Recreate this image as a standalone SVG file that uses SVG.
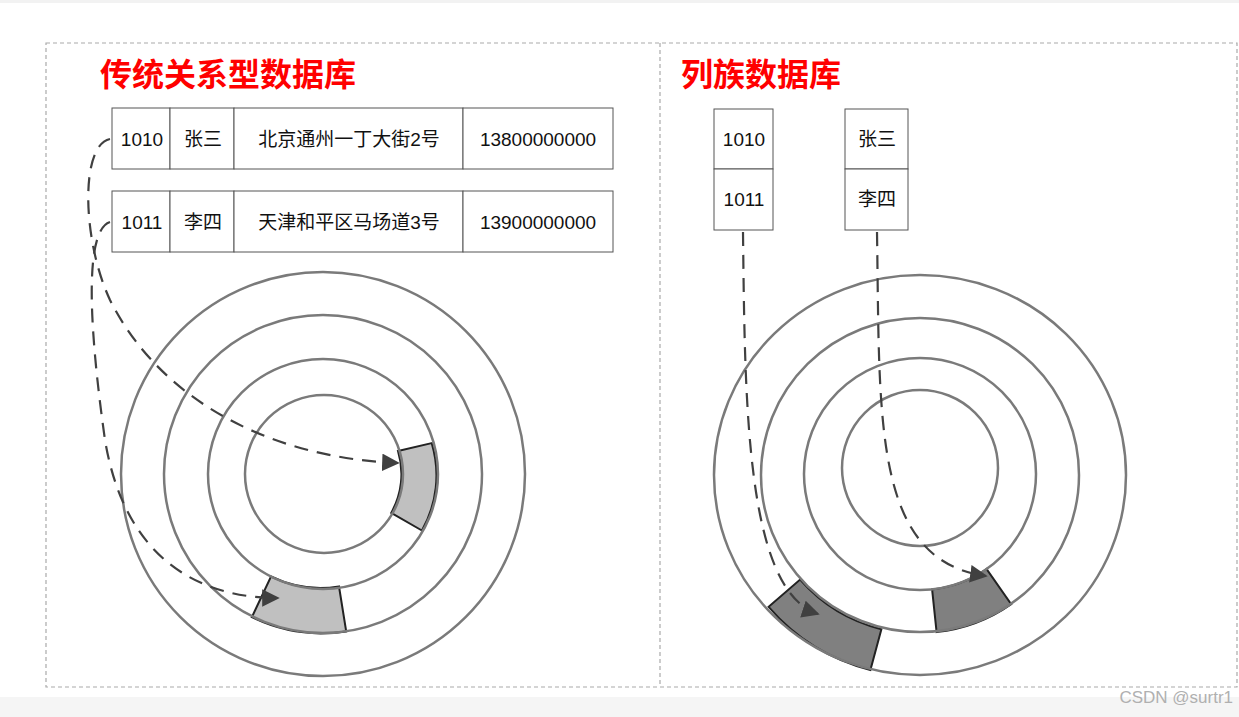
<svg xmlns="http://www.w3.org/2000/svg" width="1239" height="717" viewBox="0 0 1239 717">
<defs>
<style>
.t{font-family:"Liberation Sans","Noto Sans CJK SC",sans-serif;font-size:19px;fill:#111;text-anchor:middle}
.h{font-family:"Noto Sans CJK SC",sans-serif;font-size:32px;font-weight:bold;fill:#f00}
.c{fill:none;stroke:#7a7a7a;stroke-width:2.5}
.cell{fill:#fff;stroke:#555;stroke-width:1}
.con{fill:none;stroke:#404040;stroke-width:2.2;stroke-dasharray:14 9;marker-end:url(#a)}
</style>
<marker id="a" viewBox="0 0 10 10" refX="9" refY="5" markerWidth="8" markerHeight="8" orient="auto" markerUnits="strokeWidth"><path d="M0,0L10,5L0,10z" fill="#404040"/></marker>
</defs>
<rect width="1239" height="717" fill="#fff"/>
<rect x="0" y="0" width="1239" height="3" fill="#f2f2f2"/>
<rect x="0" y="697" width="1239" height="20" fill="#f5f5f5"/>
<rect x="46" y="43" width="1191" height="644" fill="none" stroke="#aaa" stroke-width="1.2" stroke-dasharray="4 3"/>
<line x1="660" y1="43" x2="660" y2="687" stroke="#aaa" stroke-width="1.2" stroke-dasharray="4 3"/>
<text class="h" x="100" y="86">传统关系型数据库</text>
<text class="h" x="681" y="86">列族数据库</text>
<g id="disk-left">
<path d="M431.7,443.1 A112,112 0 0 1 421.9,530.5 L391.2,512.9 A79,79 0 0 0 398.0,451.0 Z" fill="#c0c0c0" stroke="#222" stroke-width="2"/>
<path d="M346.2,631.4 A159,159 0 0 1 251.8,617.2 L271.0,576.5 A114,114 0 0 0 339.0,586.5 Z" fill="#c0c0c0" stroke="#222" stroke-width="2"/>
<circle class="c" cx="323" cy="474" r="202"/>
<circle class="c" cx="323" cy="474" r="159"/>
<circle class="c" cx="323" cy="474" r="115"/>
<circle class="c" cx="324" cy="474" r="79"/>
</g>
<g id="disk-right">
<path d="M870.4,670.0 A201,201 0 0 1 768.6,606.8 L800.1,579.6 A159,159 0 0 0 881.4,629.2 Z" fill="#808080" stroke="#222" stroke-width="2"/>
<path d="M1011.2,604.2 A159,159 0 0 1 936.6,632.1 L932.1,589.4 A116,116 0 0 0 986.5,569.0 Z" fill="#808080" stroke="#222" stroke-width="2"/>
<ellipse class="c" cx="920" cy="475" rx="206" ry="200"/>
<ellipse class="c" cx="920" cy="475" rx="159" ry="157"/>
<circle class="c" cx="920" cy="474" r="116"/>
<circle class="c" cx="920" cy="468" r="78"/>
</g>
<g id="row1010">
<rect class="cell" x="112" y="108" width="58" height="61"/><rect class="cell" x="170" y="108" width="64" height="61"/><rect class="cell" x="234" y="108" width="229" height="61"/><rect class="cell" x="463" y="108" width="150" height="61"/>
<text class="t" x="142" y="146">1010</text><text class="t" x="203" y="146">张三</text><text class="t" x="349" y="146">北京通州一丁大街2号</text><text class="t" x="538" y="146">13800000000</text>
</g>
<g id="row1011">
<rect class="cell" x="112" y="191" width="58" height="61"/><rect class="cell" x="170" y="191" width="64" height="61"/><rect class="cell" x="234" y="191" width="229" height="61"/><rect class="cell" x="463" y="191" width="150" height="61"/>
<text class="t" x="142" y="229">1011</text><text class="t" x="203" y="229">李四</text><text class="t" x="349" y="229">天津和平区马场道3号</text><text class="t" x="538" y="229">13900000000</text>
</g>
<g id="col-key">
<rect class="cell" x="714" y="109" width="59" height="60"/><rect class="cell" x="714" y="169" width="59" height="61"/>
<text class="t" x="744" y="146">1010</text><text class="t" x="744" y="206">1011</text>
</g>
<g id="col-name">
<rect class="cell" x="845" y="109" width="63" height="60"/><rect class="cell" x="845" y="169" width="63" height="61"/>
<text class="t" x="877" y="146">张三</text><text class="t" x="877" y="206">李四</text>
</g>
<g id="connectors">
<path class="con" d="M110,139 C80,145 82,240 110,300 C160,400 270,458 398,463"/>
<path class="con" d="M110,222 C85,230 88,320 105,440 C125,560 200,598 278,598"/>
<path class="con" d="M743,232 C745,400 745,590 818,614"/>
<path class="con" d="M877,232 C880,420 872,560 986,576"/>
</g>
<text x="1233" y="703" font-family="Liberation Sans,sans-serif" font-size="17" fill="#b0b0b0" text-anchor="end">CSDN @surtr1</text>
</svg>
